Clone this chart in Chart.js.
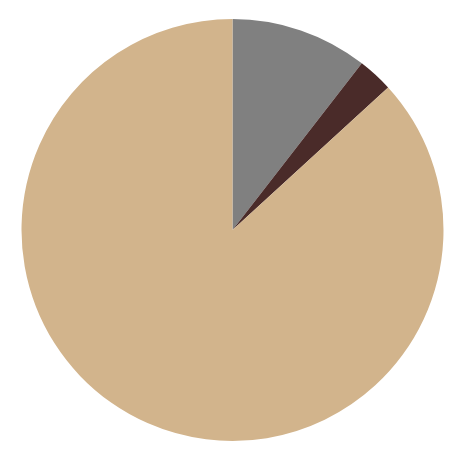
<!DOCTYPE html>
<html>
<head>
<meta charset="utf-8">
<script src="https://cdn.jsdelivr.net/npm/chart.js@4/dist/chart.umd.min.js"></script>
<style>
html,body{margin:0;padding:0;background:#fff;}
#wrap{width:465px;height:462px;}
</style>
</head>
<body>
<div id="wrap"><canvas id="c" width="465" height="462"></canvas></div>
<script>
const categories = ["A", "B", "C"];
const values = [10.5, 2.7, 86.8];
const colors = ["#808080", "#4a2b29", "#d2b48c"];

new Chart(document.getElementById('c'), {
  type: 'pie',
  data: {
    labels: categories,
    datasets: [{
      data: values,
      backgroundColor: colors,
      borderWidth: 0
    }]
  },
  options: {
    responsive: false,
    animation: false,
    layout: { padding: { top: 19, bottom: 21, left: 0, right: 0 } },
    plugins: { legend: { display: false }, tooltip: { enabled: false } }
  }
});
</script>
</body>
</html>
